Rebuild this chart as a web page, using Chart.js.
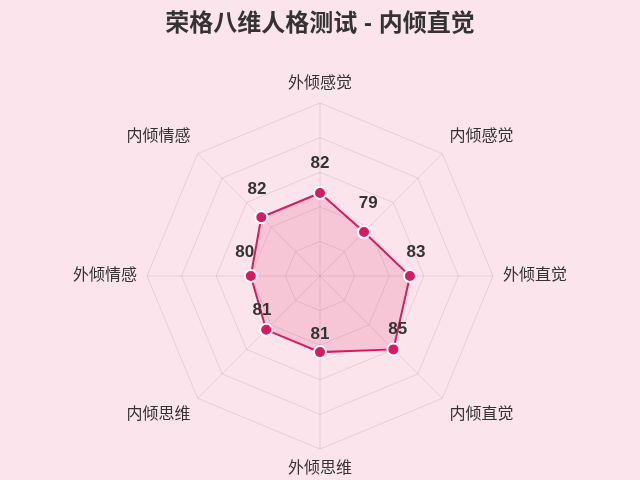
<!DOCTYPE html>
<html>
<head>
<meta charset="utf-8">
<script src="https://cdn.jsdelivr.net/npm/chart.js@4.4.0/dist/chart.umd.min.js"></script>
<style>
    html, body { margin: 0; padding: 0; background: #fce4ec; }
    #wrap { width: 640px; height: 480px; }
</style>
</head>
<body>
<div id="wrap"><canvas id="radar"></canvas></div>
<script>
const dimensions = ["外倾感觉", "内倾感觉", "外倾直觉", "内倾直觉", "外倾思维", "内倾思维", "外倾情感", "内倾情感"];
const scores = [82, 79, 83, 85, 81, 81, 80, 82];
const chartTitle = "荣格八维人格测试 - 内倾直觉";

const FONT = "'Liberation Sans', 'Noto Sans CJK SC', sans-serif";

// value labels above each point, pushed slightly outward
const valueLabels = {
    id: "valueLabels",
    afterDatasetsDraw(chart) {
        const ctx = chart.ctx;
        const r = chart.scales.r;
        const meta = chart.getDatasetMeta(0);
        ctx.save();
        ctx.font = "bold 17px " + FONT;
        ctx.fillStyle = "#333333";
        ctx.textAlign = "center";
        ctx.textBaseline = "middle";
        meta.data.forEach((pt, i) => {
            const dx = pt.x - r.xCenter;
            const dy = pt.y - r.yCenter;
            const len = Math.hypot(dx, dy) || 1;
            const x = pt.x + dx / len * 6;
            const y = pt.y + dy / len * 6 - 24;
            ctx.fillText(String(scores[i]), x, y);
        });
        ctx.restore();
    }
};

new Chart(document.getElementById("radar"), {
    type: "radar",
    data: {
        labels: dimensions,
        datasets: [{
            label: "得分",
            data: scores,
            borderColor: "#d81b60",
            backgroundColor: "rgba(216, 27, 96, 0.15)",
            borderWidth: 2,
            pointBackgroundColor: "#d81b60",
            pointBorderColor: "#ffffff",
            pointBorderWidth: 2,
            pointRadius: 6
        }]
    },
    options: {
        responsive: true,
        maintainAspectRatio: false,
        animation: false,
        layout: { padding: { top: 0, bottom: 1 } },
        plugins: {
            legend: { display: false },
            tooltip: { enabled: false },
            title: {
                display: true,
                text: chartTitle,
                color: "#333333",
                font: { size: 24, weight: "bold", family: FONT },
                padding: { top: 10, bottom: 35 }
            }
        },
        scales: {
            r: {
                min: 70,
                max: 95,
                ticks: { stepSize: 5, display: false },
                grid: { color: "rgba(120, 80, 100, 0.15)" },
                angleLines: { color: "rgba(120, 80, 100, 0.15)" },
                pointLabels: {
                    color: "#333333",
                    padding: 10,
                    font: { size: 16, family: FONT }
                }
            }
        }
    },
    plugins: [valueLabels]
});
</script>
</body>
</html>
